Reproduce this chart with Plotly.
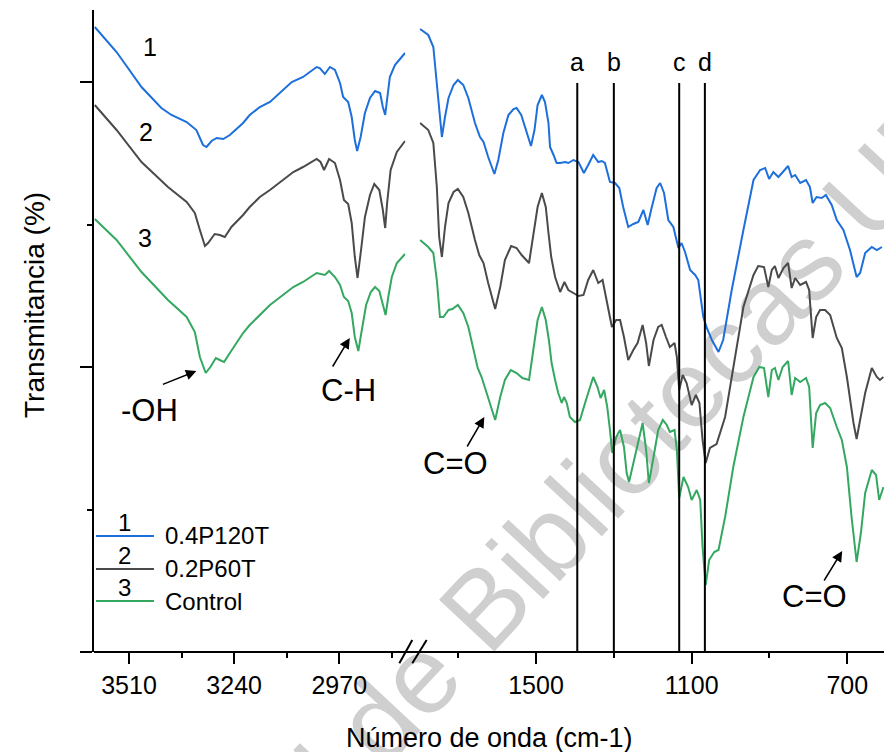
import plotly.graph_objects as go

# ---------------- data (wavenumber cm-1, transmittance a.u.) ----------------
wn_left = [3598, 3542, 3478, 3427, 3401, 3362, 3337, 3320, 3311, 3298, 3285, 3268, 3251, 3217, 3200,
           3174, 3148, 3092, 3063, 3028, 3020, 3007, 2994, 2981, 2968, 2960, 2947, 2938, 2930, 2924,
           2915, 2904, 2891, 2878, 2865, 2858, 2852, 2847, 2840, 2827, 2801]
t1_left = [62.5, 60.0, 56.5, 54.4, 53.7, 53.0, 52.2, 50.7, 50.5, 51.1, 51.4, 51.3, 51.7, 52.9, 53.7,
           54.5, 55.0, 57.0, 57.5, 58.5, 58.4, 57.8, 58.5, 58.2, 56.9, 55.5, 55.0, 53.5, 51.2, 50.1,
           51.5, 53.9, 55.4, 56.1, 55.9, 54.5, 53.7, 55.2, 57.5, 58.7, 59.9]

wn2_left = [3598, 3542, 3478, 3410, 3362, 3341, 3328, 3315, 3307, 3290, 3277, 3264, 3247, 3217, 3200,
            3174, 3148, 3088, 3063, 3028, 3018, 3009, 2996, 2981, 2968, 2958, 2947, 2938, 2930, 2923,
            2914, 2904, 2891, 2880, 2867, 2858, 2852, 2847, 2838, 2822, 2801]
t2_left = [54.7, 52.2, 49.0, 46.5, 45.0, 43.9, 42.2, 40.6, 40.9, 41.8, 41.7, 41.5, 42.5, 43.7, 44.5,
           45.5, 46.2, 48.0, 48.5, 49.3, 49.0, 48.2, 49.3, 48.9, 47.2, 45.2, 44.8, 42.9, 39.5, 37.4,
           40.2, 43.5, 45.7, 46.8, 46.2, 44.2, 42.4, 44.9, 48.2, 50.0, 51.1]

wn3_left = [3598, 3542, 3478, 3410, 3362, 3341, 3328, 3313, 3301, 3287, 3277, 3266, 3251, 3217, 3200,
            3174, 3148, 3088, 3063, 3028, 3018, 3007, 2996, 2981, 2968, 2958, 2947, 2938, 2930, 2921,
            2912, 2901, 2889, 2878, 2867, 2858, 2851, 2844, 2835, 2822, 2801]
t3_left = [43.3, 41.2, 38.0, 35.2, 33.5, 32.0, 29.5, 27.9, 28.5, 29.4, 29.2, 29.0, 29.9, 31.9, 32.7,
           33.7, 34.7, 36.5, 37.0, 37.9, 37.8, 37.7, 38.1, 37.5, 36.7, 35.5, 35.1, 33.9, 31.5, 30.1,
           32.2, 34.7, 36.0, 36.5, 36.1, 34.9, 33.7, 35.5, 37.5, 38.9, 39.8]

wn1_right = [1798, 1777, 1764, 1758, 1751, 1742, 1734, 1725, 1712, 1701, 1687, 1674, 1657, 1644, 1635,
             1623, 1607, 1597, 1584, 1571, 1558, 1550, 1538, 1528, 1520, 1513, 1504, 1496, 1485, 1477,
             1468, 1464, 1455, 1447, 1438, 1425, 1417, 1404, 1391, 1377, 1366, 1353, 1340, 1331, 1323,
             1310, 1297, 1286, 1276, 1263, 1250, 1237, 1224, 1213, 1203, 1190, 1181, 1171, 1160, 1147,
             1134, 1126, 1117, 1104, 1091, 1083, 1070, 1061, 1048, 1031, 1019, 997, 967, 941, 924,
             911, 901, 890, 877, 864, 852, 843, 834, 821, 806, 796, 789, 779, 766, 755,
             740, 727, 710, 693, 676, 667, 654, 637, 624, 611]
t1_right = [62.3, 61.7, 60.5, 58.2, 54.9, 51.5, 53.5, 55.4, 56.7, 57.2, 56.7, 55.4, 52.9, 51.5, 51.0,
            49.5, 47.8, 49.2, 51.9, 53.7, 54.3, 54.4, 53.7, 52.5, 51.5, 50.6, 52.2, 54.7, 55.7, 55.0,
            52.9, 50.5, 49.7, 48.9, 48.9, 49.0, 48.9, 49.2, 49.0, 47.9, 48.7, 49.7, 49.0, 49.1, 48.9,
            47.0, 46.9, 46.4, 44.5, 42.5, 42.8, 43.0, 44.2, 42.7, 44.4, 46.4, 46.9, 45.9, 43.2, 42.5,
            40.4, 40.9, 40.0, 38.2, 37.7, 37.2, 33.5, 32.4, 31.2, 30.0, 31.2, 36.2, 42.2, 47.2, 48.2,
            48.4, 47.3, 48.0, 47.5, 48.1, 48.6, 47.5, 47.7, 46.9, 47.2, 46.5, 44.9, 45.5, 45.4, 45.7,
            44.7, 43.2, 42.2, 40.2, 37.5, 37.9, 39.9, 40.5, 40.2, 40.5]

wn2_right = [1798, 1777, 1764, 1755, 1749, 1742, 1734, 1725, 1712, 1701, 1687, 1674, 1657, 1646, 1635,
             1623, 1605, 1592, 1580, 1564, 1550, 1537, 1518, 1507, 1496, 1485, 1475, 1468, 1461, 1451,
             1438, 1427, 1417, 1404, 1391, 1378, 1366, 1353, 1340, 1329, 1318, 1305, 1294, 1284, 1274,
             1263, 1250, 1239, 1226, 1217, 1210, 1198, 1186, 1177, 1166, 1156, 1144, 1138, 1132, 1123,
             1113, 1100, 1089, 1080, 1072, 1064, 1053, 1036, 1014, 993, 967, 941, 929, 914, 903,
             894, 886, 877, 864, 852, 843, 834, 821, 806, 798, 789, 780, 770, 757, 744,
             727, 714, 701, 684, 676, 667, 654, 637, 624, 616, 607]
t2_right = [52.9, 52.2, 50.9, 46.5, 41.5, 39.5, 42.5, 44.9, 46.0, 46.3, 45.5, 43.9, 41.2, 39.7, 38.9,
            36.9, 34.3, 36.5, 39.2, 40.6, 40.4, 39.7, 38.9, 41.9, 44.5, 45.9, 44.5, 41.9, 39.5, 37.5,
            36.0, 37.0, 36.2, 35.9, 35.6, 35.7, 37.2, 38.2, 36.9, 37.2, 34.9, 32.5, 33.2, 33.2, 31.5,
            29.2, 30.2, 30.9, 32.7, 30.9, 28.6, 31.2, 32.5, 32.7, 31.5, 30.5, 30.9, 29.5, 26.2, 27.7,
            26.9, 24.7, 25.7, 24.9, 21.2, 18.9, 20.4, 20.8, 23.5, 28.5, 34.5, 37.7, 38.6, 38.5, 36.5,
            38.2, 38.6, 37.4, 38.4, 38.9, 36.4, 37.4, 36.7, 37.0, 36.2, 31.4, 33.5, 34.2, 34.2, 33.7,
            31.4, 30.4, 27.5, 22.9, 21.3, 23.2, 25.9, 28.4, 27.5, 27.2, 27.5]

wn3_right = [1798, 1777, 1764, 1755, 1747, 1738, 1725, 1715, 1701, 1687, 1674, 1661, 1650, 1640, 1627,
             1605, 1592, 1580, 1565, 1550, 1535, 1518, 1507, 1496, 1485, 1475, 1467, 1460, 1451, 1443,
             1434, 1428, 1421, 1413, 1400, 1387, 1374, 1361, 1353, 1342, 1334, 1325, 1317, 1310, 1304,
             1294, 1284, 1274, 1267, 1261, 1250, 1237, 1226, 1217, 1210, 1198, 1186, 1174, 1164, 1156,
             1144, 1138, 1132, 1121, 1109, 1100, 1087, 1078, 1072, 1064, 1055, 1042, 1031, 1014, 993,
             967, 941, 926, 914, 903, 894, 886, 877, 866, 852, 843, 834, 821, 806, 798,
             789, 780, 770, 757, 744, 727, 714, 701, 689, 676, 665, 654, 637, 626, 618, 607]
t3_right = [41.2, 40.5, 39.9, 37.2, 33.5, 33.5, 34.2, 34.3, 34.7, 33.9, 32.5, 30.2, 28.4, 27.5, 25.9,
            23.2, 25.5, 27.2, 28.2, 27.9, 27.4, 27.2, 30.2, 33.2, 34.5, 33.2, 31.2, 28.9, 27.2, 25.9,
            24.9, 25.5, 24.9, 23.5, 23.0, 23.2, 24.9, 26.5, 27.5, 26.5, 25.4, 26.2, 24.5, 22.2, 19.9,
            21.5, 22.2, 20.5, 17.9, 17.0, 18.9, 20.9, 22.9, 20.2, 16.9, 19.5, 22.2, 23.2, 22.7, 22.0,
            22.2, 20.2, 15.4, 17.5, 16.5, 15.2, 16.2, 15.2, 10.5, 6.7, 9.2, 10.0, 10.2, 13.5, 18.5,
            23.5, 27.5, 28.5, 28.4, 25.5, 28.2, 28.4, 27.2, 28.5, 29.1, 25.7, 27.4, 27.0, 27.4, 26.5,
            20.4, 23.9, 24.7, 24.9, 24.4, 22.5, 21.2, 18.5, 13.5, 9.0, 11.9, 15.9, 18.2, 17.7, 15.2, 16.5]

series_names = ["0.4P120T", "0.2P60T", "Control"]
series_nums = ["1", "2", "3"]
series_colors = ["#1d6fdc", "#4a4a4a", "#34a860"]

band_lines = [1394, 1300, 1132, 1066]
band_labels = ["a", "b", "c", "d"]

left_ticks = [3510, 3240, 2970]
left_minor = [3375, 3105, 2835]
right_ticks = [1500, 1100, 700]
right_minor = [1700, 1300, 900]
y_major = [0, 28.5, 57.0]
y_minor = [14.25, 42.75]

FONT = "Arial, Liberation Sans, sans-serif"

fig = go.Figure()
left_sets = [(wn_left, t1_left), (wn2_left, t2_left), (wn3_left, t3_left)]
right_sets = [(wn1_right, t1_right), (wn2_right, t2_right), (wn3_right, t3_right)]
for i in range(3):
    fig.add_trace(go.Scatter(x=left_sets[i][0], y=left_sets[i][1], xaxis="x", yaxis="y", mode="lines",
                             line=dict(color=series_colors[i], width=2), name=series_names[i],
                             showlegend=False))
    fig.add_trace(go.Scatter(x=right_sets[i][0], y=right_sets[i][1], xaxis="x2", yaxis="y", mode="lines",
                             line=dict(color=series_colors[i], width=2), name=series_names[i],
                             showlegend=False))

tickstyle = dict(ticks="outside", ticklen=11, tickwidth=2, tickcolor="black",
                 showgrid=False, zeroline=False, showline=False,
                 tickfont=dict(family=FONT, size=25, color="black"))

fig.update_layout(
    width=884, height=752,
    margin=dict(l=94, r=0, t=10, b=100),
    paper_bgcolor="white", plot_bgcolor="white",
    font=dict(family=FONT, color="black"),
    xaxis=dict(domain=[0, 0.3942], range=[3600, 2800], anchor="y", tickmode="array",
               tickvals=left_ticks, ticktext=[str(v) for v in left_ticks],
               minor=dict(tickvals=left_minor, ticks="outside", ticklen=5, tickwidth=2, tickcolor="black"),
               **tickstyle),
    xaxis2=dict(domain=[0.4118, 1], range=[1800, 605.6], anchor="y", tickmode="array",
                tickvals=right_ticks, ticktext=[str(v) for v in right_ticks],
                minor=dict(tickvals=right_minor, ticks="outside", ticklen=5, tickwidth=2, tickcolor="black"),
                **tickstyle),
    yaxis=dict(range=[0, 64.2], showline=True, linewidth=2, linecolor="black", ticks="outside",
               ticklen=12, tickwidth=2, tickcolor="black", tickmode="array", tickvals=y_major,
               showticklabels=False, showgrid=False, zeroline=False,
               minor=dict(tickvals=y_minor, ticks="outside", ticklen=5, tickwidth=2, tickcolor="black")),
)

# continuous bottom axis line + break marks
fig.add_shape(type="line", xref="paper", yref="paper", x0=0, x1=1, y0=0, y1=0,
              line=dict(color="black", width=2))
for x0, x1 in [(0.3865, 0.4029), (0.4029, 0.4211)]:
    fig.add_shape(type="line", xref="paper", yref="paper", x0=x0, x1=x1, y0=-0.0176, y1=0.0187,
                  line=dict(color="black", width=2))

# band marker lines
for wn, lab in zip(band_lines, band_labels):
    fig.add_shape(type="line", xref="x2", yref="y", x0=wn, x1=wn, y0=0, y1=56.9,
                  line=dict(color="black", width=2))
    fig.add_annotation(x=wn, y=59.0, xref="x2", yref="y", text=lab, showarrow=False,
                       xanchor="center", yanchor="middle",
                       font=dict(family=FONT, size=25, color="black"))

# curve numbers
for num, (xv, yv) in zip(series_nums, [(3457, 60.5), (3467, 52.0), (3470, 41.4)]):
    fig.add_annotation(x=xv, y=yv, xref="x", yref="y", text=num, showarrow=False,
                       xanchor="center", yanchor="middle",
                       font=dict(family=FONT, size=25, color="black"))

# peak labels with arrows
peak_text = [("-OH", "x", 3457, 24.2), ("C-H", "x", 2945, 26.2), ("C=O", "x2", 1708, 18.9), ("C=O", "x2", 783, 5.6)]
peak_heads = [("x", 3337, 28.1, -35, 14), ("x", 2943, 31.4, -18, 30), ("x2", 1633, 23.5, -18, 31), ("x2", 713, 10.1, -19, 31)]
for txt, xr, xv, yv in peak_text:
    fig.add_annotation(x=xv, y=yv, xref=xr, yref="y", text=txt, showarrow=False,
                       xanchor="center", yanchor="middle",
                       font=dict(family=FONT, size=31, color="black"))
for xr, xv, yv, ax, ay in peak_heads:
    fig.add_annotation(x=xv, y=yv, xref=xr, yref="y", text="", showarrow=True, arrowhead=2,
                       arrowsize=1.4, arrowwidth=1.5, arrowcolor="black", ax=ax, ay=ay)

# legend (manual)
leg_y = [0.1807, 0.1293, 0.0794]
for i in range(3):
    fig.add_shape(type="line", xref="paper", yref="paper", x0=0.0025, x1=0.0759, y0=leg_y[i], y1=leg_y[i],
                  line=dict(color=series_colors[i], width=2))
    fig.add_annotation(x=0.0392, y=leg_y[i] + 0.0205, xref="paper", yref="paper", text=series_nums[i],
                       xanchor="center", yanchor="middle",
                       showarrow=False, font=dict(family=FONT, size=24, color="black"))
    fig.add_annotation(x=0.0870, y=leg_y[i], xref="paper", yref="paper", text=series_names[i],
                       xanchor="left", yanchor="middle", showarrow=False,
                       font=dict(family=FONT, size=24, color="black"))

# axis titles
fig.add_annotation(x=0.5, y=-0.134, xref="paper", yref="paper", text="Número de onda (cm-1)",
                   xanchor="center", yanchor="middle",
                   showarrow=False, font=dict(family=FONT, size=27, color="black"))
fig.add_annotation(x=-0.0747, y=0.5405, xref="paper", yref="paper", text="Transmitancia (%)",
                   xanchor="center", yanchor="middle",
                   textangle=-90, showarrow=False, font=dict(family=FONT, size=28, color="black"))

# watermark
fig.add_shape(type="line", xref="paper", yref="paper", x0=0.3765, x1=0.3785, y0=-0.059, y1=-0.059,
              layer="below", line=dict(color="rgba(0,0,0,0)", width=0),
              label=dict(text="Dirección General de Bibliotecas UNAM", textangle=-47, textposition="middle",
                         yanchor="middle", padding=0,
                         font=dict(family=FONT, size=110, color="#cfcfcf")))

fig.write_html("out.html")
